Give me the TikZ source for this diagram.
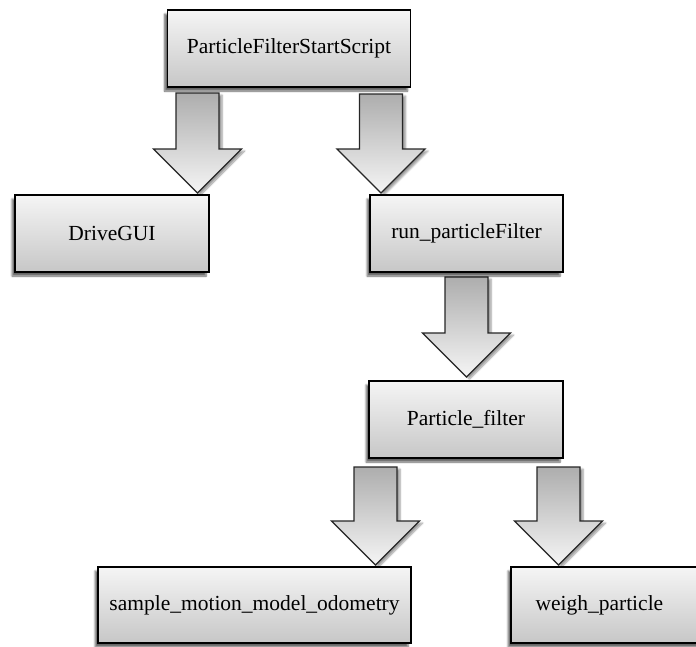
\documentclass[tikz,border=0pt]{standalone}
\usepackage{fontspec}
\setmainfont{Liberation Serif}
\usetikzlibrary{shadows.blur}
\tikzset{
  boxnode/.style={draw=black, line width=1.6pt, rectangle, inner sep=0pt,
    top color=white!96!black, bottom color=white!78!black,
    font=\fontsize{21.5}{24}\selectfont,
    blur shadow={shadow xshift=-3pt, shadow yshift=-4pt, shadow blur steps=6, shadow opacity=60}},
  blockarrow/.style={draw=black!85, line width=1.3pt, line join=miter,
    top color=white!68!black, bottom color=white!96!black,
    blur shadow={shadow xshift=3pt, shadow yshift=-2pt, shadow blur steps=6, shadow opacity=40}}
}
\newcommand{\barrow}[3]{%
  \path[blockarrow] (#1-21.5,#2) -- (#1+21.5,#2) -- (#1+21.5,#3-44) -- (#1+44,#3-44)
    -- (#1,#3) -- (#1-44,#3-44) -- (#1-21.5,#3-44) -- cycle;}
\begin{document}
\begin{tikzpicture}[x=1pt,y=-1pt]
\useasboundingbox (0,0) rectangle (696,646);
% block arrows
\barrow{197.5}{93}{193}
\barrow{381}{94}{193}
\barrow{466.5}{277}{377}
\barrow{375.5}{467}{565}
\barrow{558.5}{467}{565}
% boxes
\node[boxnode, minimum width=243pt, minimum height=77pt] (start) at (289,48.5) {ParticleFilterStartScript};
\node[boxnode, minimum width=194pt, minimum height=77pt] (gui) at (112,233.5) {DriveGUI};
\node[boxnode, minimum width=193pt, minimum height=77pt] (run) at (466.5,233.5) {run\_particleFilter};
\node[boxnode, minimum width=194pt, minimum height=77pt] (pf) at (466,419.5) {Particle\_filter};
\node[boxnode, minimum width=313pt, minimum height=76pt] (smm) at (254.5,605) {sample\_motion\_model\_odometry};
\node[boxnode, minimum width=190pt, minimum height=76pt, text width=185pt, align=left] (wp) at (606,605) {\hspace*{22pt}weigh\_particle};
\end{tikzpicture}
\end{document}
